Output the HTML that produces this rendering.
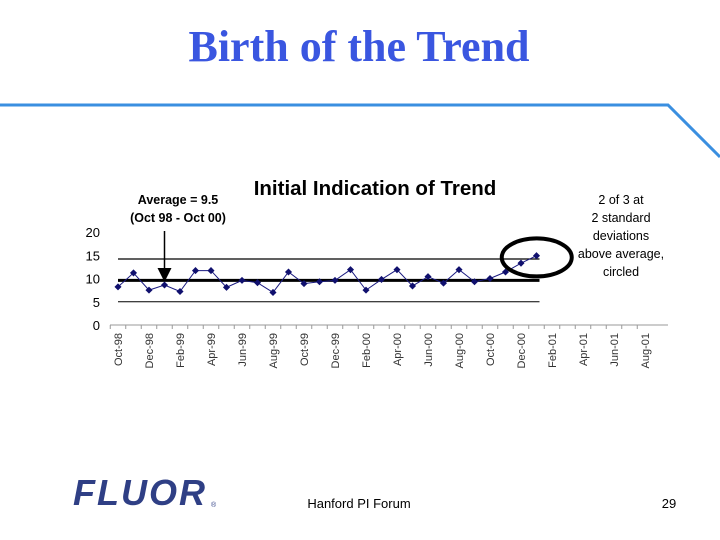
<!DOCTYPE html>
<html><head><meta charset="utf-8"><style>
html,body{margin:0;padding:0;background:#fff;width:720px;height:540px;overflow:hidden}
svg{display:block}
</style></head><body>
<svg id="chart" width="720" height="540" xmlns="http://www.w3.org/2000/svg" font-family="Liberation Sans, Arial, sans-serif">
<text x="359" y="61" text-anchor="middle" font-family="Liberation Serif, serif" font-size="44" font-weight="bold" fill="#3a56e0">Birth of the Trend</text>
<polyline points="0,105 668,105 720,157" fill="none" stroke="#3a8fe0" stroke-width="3"/>
<text x="375" y="195" text-anchor="middle" font-size="20.5" font-weight="bold" fill="#000">Initial Indication of Trend</text>
<text x="178" y="204" text-anchor="middle" font-size="12.5" font-weight="bold">Average = 9.5</text>
<text x="178" y="222" text-anchor="middle" font-size="12.5" font-weight="bold">(Oct 98 - Oct 00)</text>
<g font-size="12.5" text-anchor="middle">
<text x="621" y="204">2 of 3 at</text><text x="621" y="222">2 standard</text><text x="621" y="240">deviations</text><text x="621" y="258">above average,</text><text x="621" y="276">circled</text></g>
<g id="plot"></g>
<text x="140" y="505" font-size="36" font-weight="bold" font-style="italic" fill="#2f3f85" text-anchor="middle" letter-spacing="2">FLUOR</text>
<text x="211" y="507" font-size="7" fill="#2f3f85">®</text>
<text x="359" y="508" text-anchor="middle" font-size="13">Hanford PI Forum</text>
<text x="669" y="508" text-anchor="middle" font-size="13">29</text>
</svg>
<script>
const months=["Oct-98","Nov-98","Dec-98","Jan-99","Feb-99","Mar-99","Apr-99","May-99","Jun-99","Jul-99","Aug-99","Sep-99","Oct-99","Nov-99","Dec-99","Jan-00","Feb-00","Mar-00","Apr-00","May-00","Jun-00","Jul-00","Aug-00","Sep-00","Oct-00","Nov-00","Dec-00","Jan-01","Feb-01","Mar-01","Apr-01","May-01","Jun-01","Jul-01","Aug-01"];
const values=[8.2,11.2,7.5,8.6,7.2,11.7,11.7,8.1,9.6,9.1,7.0,11.4,8.9,9.3,9.6,11.9,7.5,9.8,11.9,8.4,10.4,9.0,11.9,9.3,10.0,11.4,13.3,14.9];
const yTicks=[0,5,10,15,20];
const averageValue=9.6, upperLimit=14.2, lowerLimit=5.0;
const NS="http://www.w3.org/2000/svg";
const g=document.getElementById('plot');
const x=i=>118+i*15.5;
const y=v=>325-v*4.65;
function mk(t,a){const e=document.createElementNS(NS,t);for(const k in a)e.setAttribute(k,a[k]);g.appendChild(e);return e;}
yTicks.forEach(v=>{const t=mk('text',{x:100,y:y(v)+5,'text-anchor':'end','font-size':13});t.textContent=v;

});
const ax=mk('line',{x1:110,y1:325,x2:668,y2:325,stroke:'#999','stroke-width':1});


months.forEach((m,i)=>{const tk=mk('line',{x1:x(i)-7.75,y1:325,x2:x(i)-7.75,y2:329,stroke:'#999'});


if(i%2===0){const t=mk('text',{transform:`translate(${x(i)+4},333) rotate(-90)`,'text-anchor':'end','font-size':11,fill:'#333'});t.textContent=m;

}});
const xe=x(values.length-1)+3;
[[lowerLimit,1,'lower-limit-line'],[upperLimit,1.3,'upper-limit-line'],[averageValue,3,'average-line']].forEach(([v,w,n])=>{
const l=mk('line',{x1:118,y1:y(v),x2:xe,y2:y(v),stroke:'#000','stroke-width':w});

});
const pl=mk('polyline',{points:values.map((v,i)=>x(i)+','+y(v)).join(' '),fill:'none',stroke:'#1a1a80','stroke-width':1});


values.forEach((v,i)=>{const p=mk('rect',{x:x(i)-2.5,y:y(v)-2.5,width:5,height:5,fill:'#10106e',transform:`rotate(45 ${x(i)} ${y(v)})`});

});
const ar=mk('line',{x1:x(3),y1:231,x2:x(3),y2:268,stroke:'#000','stroke-width':1.5});


const ah=mk('polygon',{points:`${x(3)-7},268 ${x(3)+7},268 ${x(3)},282`,fill:'#000'});


const n=values.length;
const el=mk('ellipse',{cx:(x(n-2)+x(n-1))/2+8,cy:(y(values[n-2])+y(values[n-1]))/2-2,rx:35,ry:19,fill:'none',stroke:'#000','stroke-width':4});


</script>
</body></html>
